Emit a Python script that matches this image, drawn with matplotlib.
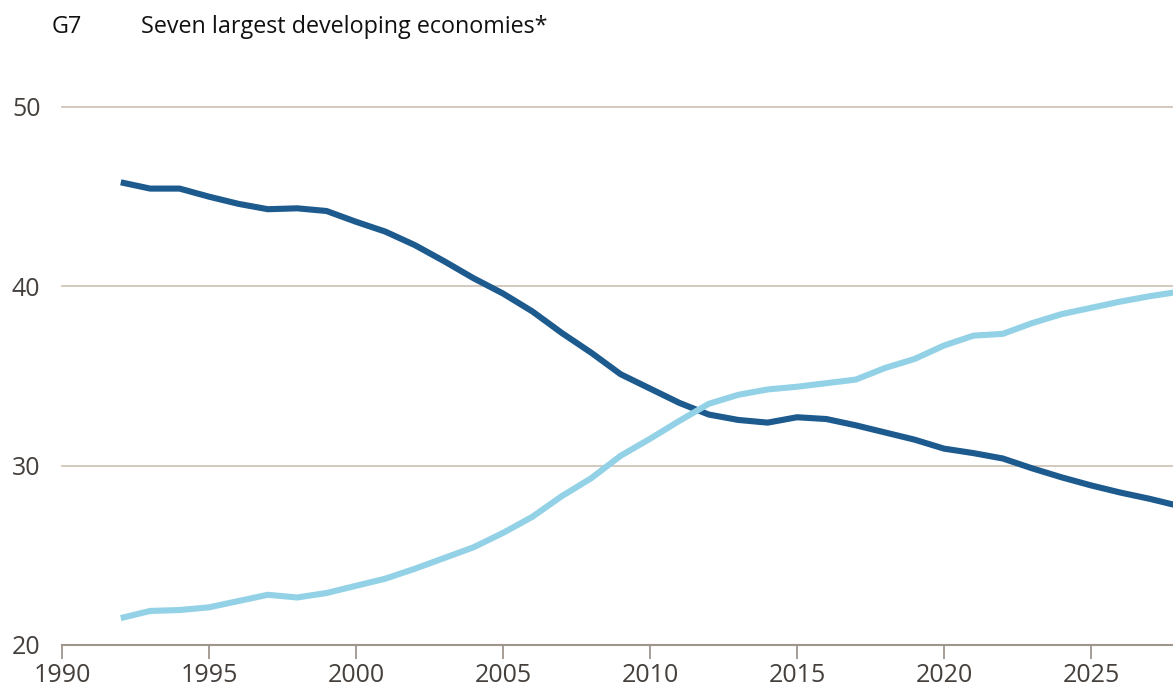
import matplotlib
matplotlib.use("Agg")
import matplotlib.pyplot as plt

years = list(range(1992, 2029))
g7 = [45.8, 45.45, 45.45, 45.0, 44.6, 44.3, 44.35, 44.2, 43.6, 43.05, 42.3, 41.4,
      40.45, 39.6, 38.6, 37.4, 36.3, 35.1, 34.3, 33.5, 32.85, 32.55, 32.4, 32.7,
      32.6, 32.25, 31.85, 31.45, 30.95, 30.7, 30.4, 29.85, 29.35, 28.9, 28.5,
      28.15, 27.75]
em7 = [21.5, 21.9, 21.95, 22.1, 22.45, 22.8, 22.65, 22.9, 23.3, 23.7, 24.25, 24.85,
       25.45, 26.25, 27.15, 28.3, 29.3, 30.55, 31.5, 32.5, 33.45, 33.95, 34.25, 34.4,
       34.6, 34.8, 35.45, 35.95, 36.7, 37.25, 37.35, 37.95, 38.45, 38.8, 39.15,
       39.45, 39.7]
series_labels = ["G7", "Seven largest developing economies*"]
yticks = [20, 30, 40, 50]
xticks = [1990, 1995, 2000, 2005, 2010, 2015, 2020, 2025]

plt.rcParams['font.family'] = ['Open Sans', 'DejaVu Sans']
text_col = "#45403c"
grid_col = "#d0c5ba"
axis_col = "#9e958d"
dark = "#1d5a8e"
light = "#93d2e6"

W, H = 1173, 689
fig = plt.figure(figsize=(W / 100, H / 100), dpi=100)
left, right, top, bottom = 62, 1173, 107, 645
ax = fig.add_axes([left / W, 1 - bottom / H, (right - left) / W, (bottom - top) / H])
ax.set_xlim(1990, 1990 + (right - left) / 29.4)
ax.set_ylim(20, 50)

for y in yticks[1:]:
    ax.axhline(y, color=grid_col, lw=1.3, zorder=1, clip_on=False)

ax.plot(years, g7, color=dark, lw=4.4, solid_capstyle="butt", zorder=3)
ax.plot(years, em7, color=light, lw=4.4, solid_capstyle="butt", zorder=3)

for s in ["top", "right", "left"]:
    ax.spines[s].set_visible(False)
ax.spines["bottom"].set_color(axis_col)
ax.spines["bottom"].set_linewidth(1.5)

ax.set_xticks(xticks)
ax.set_xticklabels([str(x) for x in xticks])
ax.tick_params(axis="x", length=10, width=1.3, color=axis_col, labelsize=18,
               labelcolor=text_col, pad=3)
ax.set_yticks(yticks)
ax.set_yticklabels([str(y) for y in yticks])
ax.tick_params(axis="y", length=0, labelsize=18, labelcolor=text_col, pad=15.5)

fig.text(52 / W, 1 - 27 / H, series_labels[0], fontsize=16.8, color="#111111",
         va="center", ha="left")
fig.text(141 / W, 1 - 27 / H, series_labels[1], fontsize=16.8, color="#111111",
         va="center", ha="left")

fig.savefig("out.png", dpi=100)
